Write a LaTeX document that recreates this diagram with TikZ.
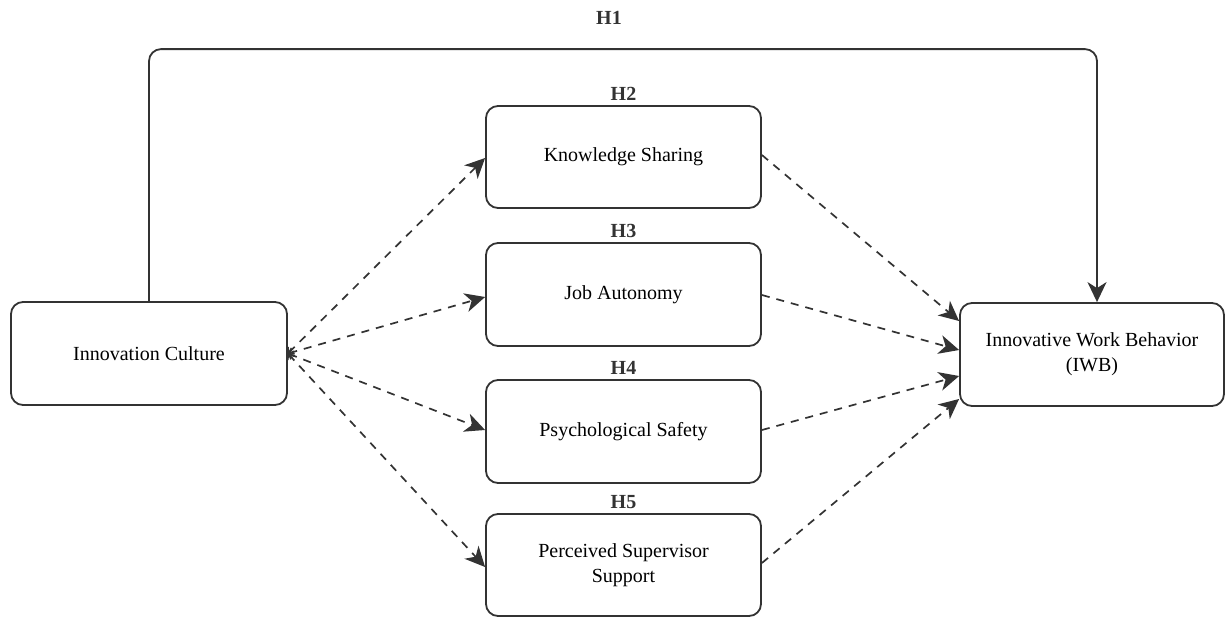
\documentclass[tikz,border=0pt]{standalone}
\usepackage{fontspec}
\setmainfont{Liberation Serif}
\usetikzlibrary{arrows.meta}
\definecolor{ink}{HTML}{333333}
\tikzset{
  box/.style={draw=ink, line width=1.8pt, rounded corners=12pt, align=center,
    font=\fontsize{20}{25}\selectfont, inner sep=0pt},
  hyp/.style={font=\bfseries\fontsize{20}{24}\selectfont, text=ink},
  tip/.style={-{Stealth[length=20pt,width=19pt,inset=6pt]}},
  dashedarrow/.style={draw=ink, line width=1.7pt, dash pattern=on 8pt off 7pt,
    {Straight Barb[length=4pt,width=9pt,line width=1.3pt]}-{Stealth[length=20pt,width=19pt,inset=6pt]}},
  dashedout/.style={draw=ink, line width=1.7pt, dash pattern=on 8pt off 7pt,
    -{Stealth[length=20pt,width=19pt,inset=6pt]}},
}
\begin{document}
\begin{tikzpicture}[x=1pt,y=-1pt]
\useasboundingbox (0,0) rectangle (1226,616);
% boxes
\node[box, minimum width=276pt, minimum height=103pt] (ic) at (149,353.5) {Innovation Culture};
\node[box, minimum width=275pt, minimum height=102pt] (ks) at (623.5,157) {Knowledge Sharing};
\node[box, minimum width=275pt, minimum height=103pt] (ja) at (623.5,294.5) {Job Autonomy};
\node[box, minimum width=275pt, minimum height=103pt] (ps) at (623.5,431.5) {Psychological Safety};
\node[box, minimum width=275pt, minimum height=102pt] (pss) at (623.5,565) {Perceived Supervisor\\Support};
\node[box, minimum width=264pt, minimum height=103pt] (iwb) at (1092,354.5) {Innovative Work Behavior\\(IWB)};
% hypothesis labels
\node[hyp] (h1) at (609,18) {H1};
\node[hyp] (h2) at (623.5,94) {H2};
\node[hyp] (h3) at (623.5,231) {H3};
\node[hyp] (h4) at (623.5,368) {H4};
\node[hyp] (h5) at (623.5,502) {H5};
% H1 path
\coordinate (icout) at (ic.east);
\draw[draw=ink, line width=1.8pt, rounded corners=12pt, tip]
  (ic.north) -- ++(0,-252) -| (iwb.north -| 1097,0);
% dashed arrows from IC
\draw[dashedarrow] (icout) -- (ks.west |- 0,158);
\draw[dashedarrow] (icout) -- (ja.west |- 0,297);
\draw[dashedarrow] (icout) -- (ps.west |- 0,430);
\draw[dashedarrow] (icout) -- (pss.west |- 0,567);
% dashed arrows to IWB
\draw[dashedout] (ks.east |- 0,155) -- (iwb.west |- 0,321);
\draw[dashedout] (ja.east |- 0,295) -- (iwb.west |- 0,350);
\draw[dashedout] (ps.east |- 0,430) -- (iwb.west |- 0,376);
\draw[dashedout] (pss.east |- 0,563) -- (iwb.west |- 0,399);
\end{tikzpicture}
\end{document}
